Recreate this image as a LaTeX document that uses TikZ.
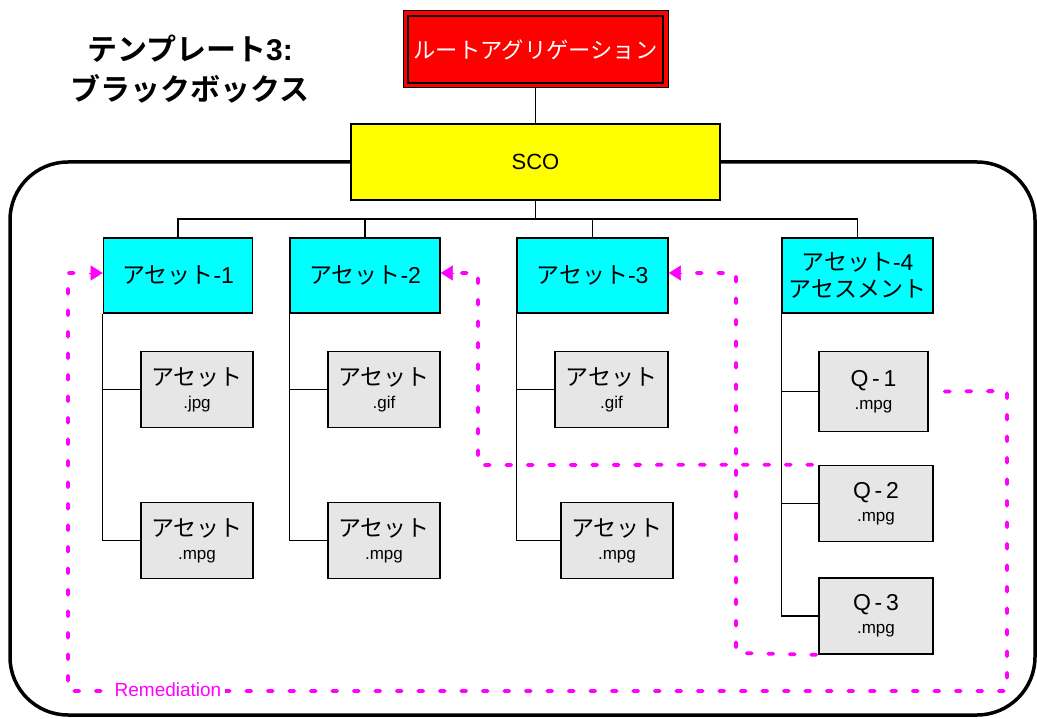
\documentclass[tikz,border=0pt]{standalone}
\usepackage{fontspec}
\setmainfont{Liberation Sans}
\newfontfamily\jp{Noto Sans CJK JP}
\newfontfamily\jpb{Noto Sans CJK JP Bold}
\usetikzlibrary{arrows.meta}
\definecolor{mag}{RGB}{255,0,255}
\definecolor{cyanbox}{RGB}{0,255,255}
\definecolor{graybox}{RGB}{230,230,230}
\definecolor{ylw}{RGB}{255,255,0}
\tikzset{
  box/.style={draw=black, line width=1.6pt, inner sep=0pt, align=center},
  assetbox/.style={box, fill=cyanbox, font=\fontsize{23}{26}\selectfont},
  itembox/.style={box, fill=graybox, font=\fontsize{23}{24}\selectfont},
  tree/.style={draw=black, line width=1.4pt},
  remed/.style={draw=mag, line width=3.8pt, line cap=round, dash pattern=on 5pt off 16.5pt},
  remarrow/.style={-{Triangle[length=12pt,width=15pt]}, mag, line width=0.5pt}
}
\newcommand{\ext}[1]{\\[-1pt]{\fontsize{17}{18}\selectfont #1}}
\begin{document}
\begin{tikzpicture}[x=1pt,y=-1pt]
\useasboundingbox (0,0) rectangle (1037,719);
% big rounded frame
\draw[line width=3.5pt, rounded corners=58pt] (10,162) rectangle (1035,715);
% title
\node[align=center, font=\fontsize{30}{40}\selectfont] (title) at (190,69)
  {{\jpb テンプレート}\bfseries 3:\\{\jpb ブラックボックス}};
% root
\node[draw=black, line width=0.8pt, fill=red, minimum width=265pt, minimum height=77pt, inner sep=0pt] (rootout) at (535.5,48.5) {};
\node[draw=black, line width=2pt, fill=red, minimum width=255pt, minimum height=67pt, inner sep=0pt,
  text=white, font=\jp\fontsize{22.3}{24}\selectfont] (root) at (535.5,49.5) {ルートアグリゲーション};
% SCO
\node[box, fill=ylw, minimum width=369pt, minimum height=76pt, font=\fontsize{22}{24}\selectfont] (sco) at (535.5,162) {SCO};
\draw[tree] (rootout.south) -- (sco.north);
% assets
\node[assetbox, minimum width=149pt, minimum height=75pt] (a1) at (178,275.5) {{\jp アセット}-1};
\node[assetbox, minimum width=150pt, minimum height=75pt] (a2) at (365,275.5) {{\jp アセット}-2};
\node[assetbox, minimum width=151pt, minimum height=75pt] (a3) at (592.5,275.5) {{\jp アセット}-3};
\node[assetbox, minimum width=151pt, minimum height=75pt, font=\fontsize{23}{27}\selectfont] (a4) at (857.5,275.5) {{\jp アセット}-4\\{\jp アセスメント}};
\coordinate (bus) at (535.5,219);
\draw[tree] (sco.south) -- (bus);
\draw[tree] (a1.north) |- (bus) -| (a4.north);
\draw[tree] (a2.north) -- (a2.north |- bus);
\draw[tree] (a3.north) -- (a3.north |- bus);
% items
\node[itembox, minimum width=112pt, minimum height=76pt] (c11) at (197,389.5) {{\jp アセット}\ext{.jpg}};
\node[itembox, minimum width=112pt, minimum height=76pt] (c12) at (197,540.5) {{\jp アセット}\ext{.mpg}};
\node[itembox, minimum width=112pt, minimum height=76pt] (c21) at (384,389.5) {{\jp アセット}\ext{.gif}};
\node[itembox, minimum width=112pt, minimum height=76pt] (c22) at (384,540.5) {{\jp アセット}\ext{.mpg}};
\node[itembox, minimum width=113pt, minimum height=76pt] (c31) at (611.5,389.5) {{\jp アセット}\ext{.gif}};
\node[itembox, minimum width=112pt, minimum height=76pt] (c32) at (617,540.5) {{\jp アセット}\ext{.mpg}};
\node[itembox, minimum width=109pt, minimum height=80pt] (q1) at (873.5,391.5) {Q\,-\,1\ext{.mpg}};
\node[itembox, minimum width=114pt, minimum height=76pt] (q2) at (876,503.5) {Q\,-\,2\ext{.mpg}};
\node[itembox, minimum width=114pt, minimum height=76pt] (q3) at (876,616) {Q\,-\,3\ext{.mpg}};
% tree lines
\draw[tree] (a1.south west) -- (a1.south west |- c12.west) -- (c12.west);
\draw[tree] (a1.south west |- c11.west) -- (c11.west);
\draw[tree] (a2.south west) -- (a2.south west |- c22.west) -- (c22.west);
\draw[tree] (a2.south west |- c21.west) -- (c21.west);
\draw[tree] (a3.south west) -- (a3.south west |- c32.west) -- (c32.west);
\draw[tree] (a3.south west |- c31.west) -- (c31.west);
\draw[tree] (a4.south west) -- (a4.south west |- q3.west) -- (q3.west);
\draw[tree] (a4.south west |- q1.west) -- (q1.west);
\draw[tree] (a4.south west |- q2.west) -- (q2.west);
% remediation paths
\coordinate (r1a) at (1007,391);
\coordinate (r1b) at (1007,691);
\coordinate (r1c) at (68,691);
\coordinate (r1d) at (68,273);
\coordinate (h1) at (89,273);
\draw[remed] (q1.east) ++(16,0) -- (r1a) -- (r1b) -- (r1c) -- (r1d) -- (h1);
\draw[remarrow] (h1) -- (a1.west |- h1);
\node[fill=white, inner xsep=4pt, inner ysep=1pt, text=mag, font=\fontsize{19}{20}\selectfont] (remlab) at (168,690) {Remediation};
\coordinate (r2a) at (478,465);
\coordinate (r2b) at (478,273);
\coordinate (h2) at (454,273);
\draw[remed] (q2.north west) ++(-6,0) -- (r2a) -- (r2b) -- (h2);
\draw[remarrow] (h2) -- (a2.east |- h2);
\coordinate (r3a) at (736,653);
\coordinate (r3b) at (736,273);
\coordinate (h3) at (681,273);
\draw[remed] (q3.south west) ++(-2,0) -- (r3a) -- (r3b) -- (h3);
\draw[remarrow] (h3) -- (a3.east |- h3);
\end{tikzpicture}
\end{document}
